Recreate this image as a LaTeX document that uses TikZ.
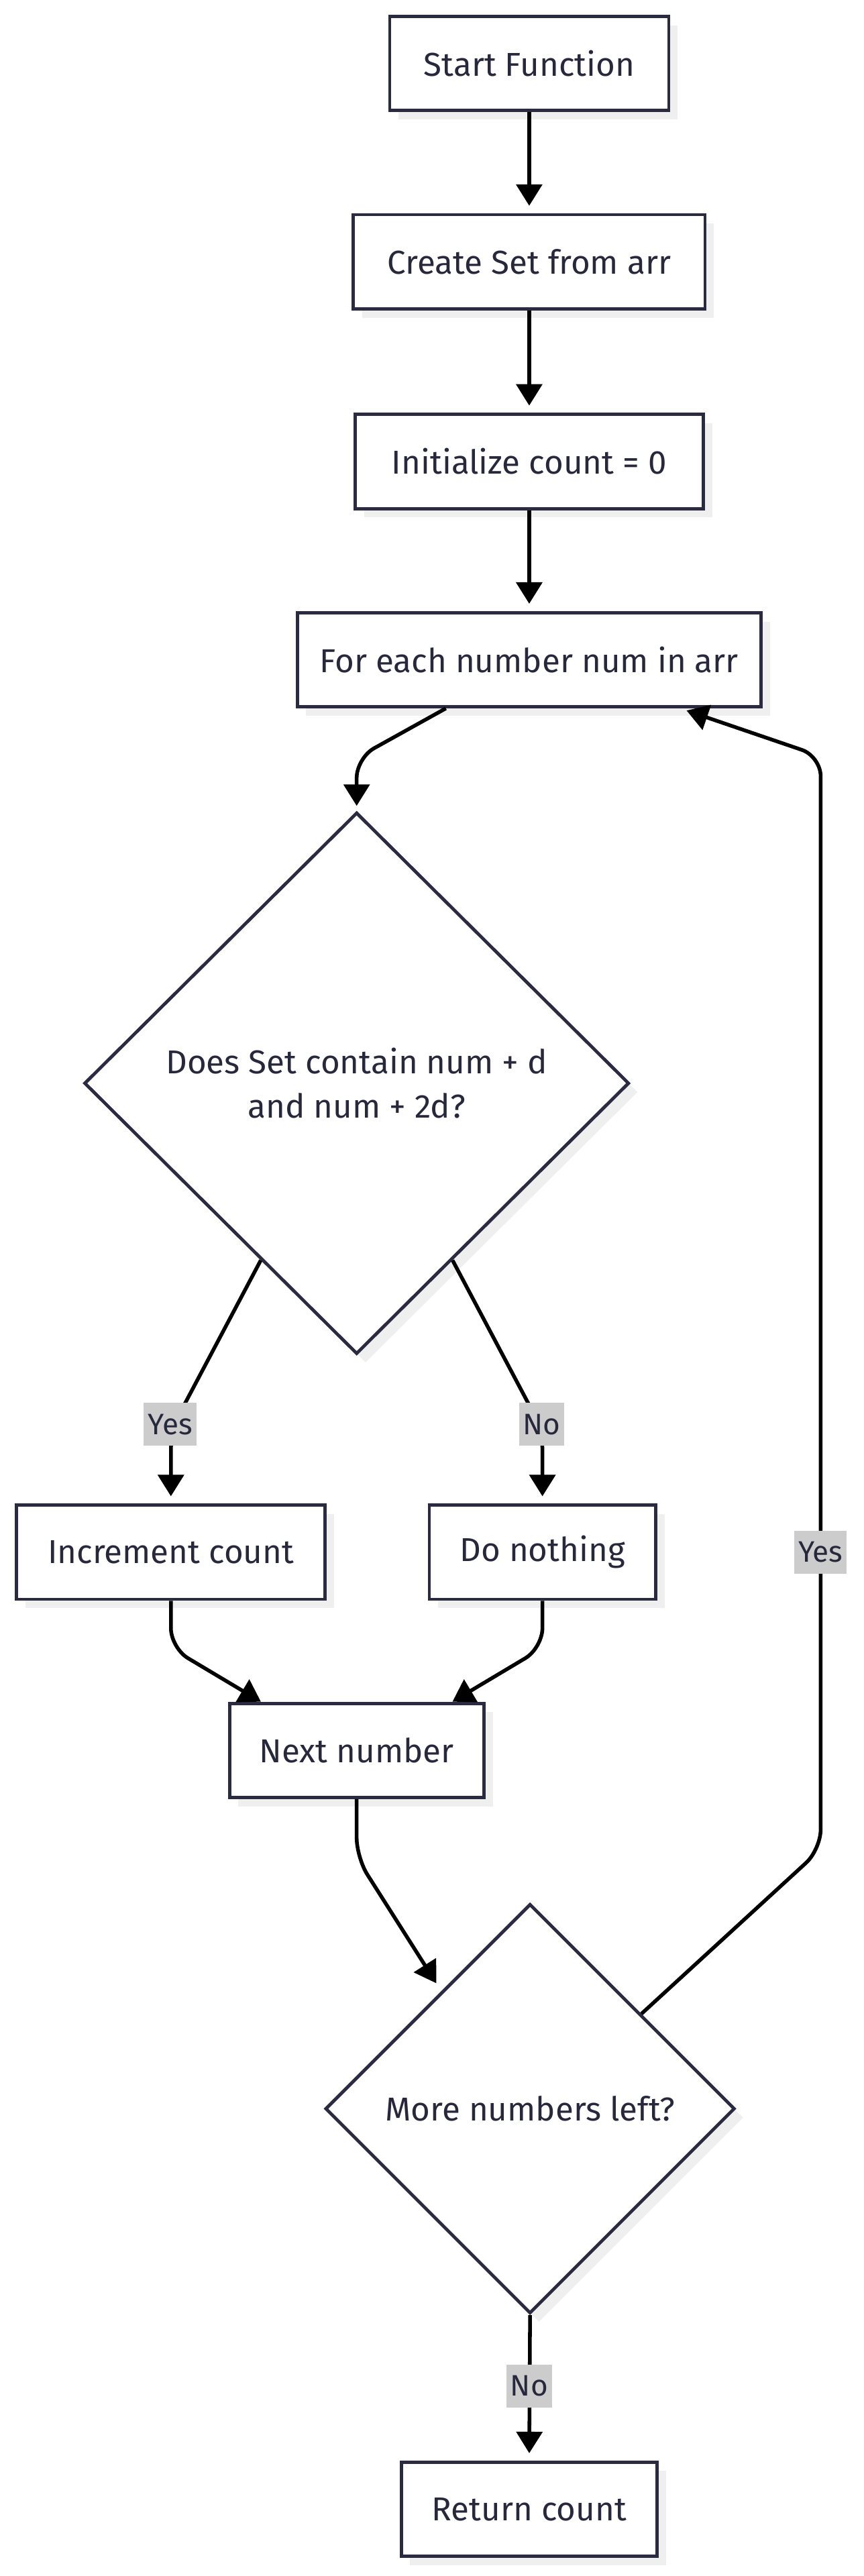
\documentclass[tikz,border=0pt]{standalone}
\usepackage{fontspec}
\setmainfont{Fira Sans}
\usetikzlibrary{arrows.meta,shapes.geometric,shadows,calc}
\definecolor{nodeline}{RGB}{42,42,64}
\definecolor{nodetext}{RGB}{40,40,60}
\definecolor{shade}{RGB}{239,239,239}
\definecolor{labelbg}{RGB}{204,204,204}
\tikzset{
  flowbox/.style={draw=nodeline, line width=2.8pt, fill=white, text=nodetext,
    minimum height=2.85cm, inner sep=0pt, align=center,
    font=\fontsize{28.5}{38}\selectfont,
    drop shadow={shadow xshift=0.27cm, shadow yshift=-0.27cm, fill=shade, opacity=1}},
  flowtest/.style={flowbox, diamond},
  flowedge/.style={line width=3.2pt, -{Triangle[length=0.65cm,width=0.78cm]},
    shorten >=0.22cm, rounded corners=0.6cm},
  edgelabel/.style={fill=labelbg, text=nodetext, font=\fontsize{25.5}{28}\selectfont,
    inner xsep=0.12cm, inner ysep=0pt, minimum height=1.3cm},
}
\begin{document}
\begin{tikzpicture}[x=0.05cm, y=-0.05cm]
  \useasboundingbox (0,0) rectangle (523.25,1560);

  \node[flowbox, minimum width=8.45cm]  (start)  at (320.5,38.5)  {Start Function};
  \node[flowbox, minimum width=10.65cm] (create) at (320.5,158.5) {Create Set from arr};
  \node[flowbox, minimum width=10.55cm] (init)   at (320.5,279.5) {Initialize count = 0};
  \node[flowbox, minimum width=14.05cm] (each)   at (320.5,399.5) {For each number num in arr};
  \node[flowtest, minimum width=16.5cm, minimum height=16.4cm]
    (check) at (216,656) {Does Set contain num + d\\and num + 2d?};
  \node[flowbox, minimum width=9.35cm]  (incr)   at (103.5,940)  {Increment count};
  \node[flowbox, minimum width=6.85cm]  (skip)   at (328.5,940)  {Do nothing};
  \node[flowbox, minimum width=7.7cm]   (next)   at (216,1060)   {Next number};
  \node[flowtest, minimum width=12.4cm, minimum height=12.4cm]
    (more) at (321,1277) {More numbers left?};
  \node[flowbox, minimum width=7.75cm]  (ret)    at (320.5,1519.5) {Return count};

  %% bends
  \coordinate (eachbend) at (216,459);
  \coordinate (yesbend)  at (103.5,866);
  \coordinate (nobend)   at (328.5,866);
  \coordinate (incrbend) at (103.5,998);
  \coordinate (skipbend) at (328.5,998);
  \coordinate (nextbend) at (216,1125);
  \coordinate (looplow)  at (497,1120);
  \coordinate (loophigh) at (497,458);

  %% straight steps
  \draw[flowedge] (start) -- (create);
  \draw[flowedge] (create) -- (init);
  \draw[flowedge] (init) -- (each);
  \draw[flowedge, shorten >=0.15cm]
    ($(each.south)+(-50.5,0)$) -- (eachbend) -- (check.north);

  %% branches
  \draw[flowedge] ($(check.south)!0.35!(check.west)$) -- (yesbend) -- (incr.north);
  \draw[flowedge] ($(check.south)!0.35!(check.east)$) -- (nobend) -- (skip.north);
  \draw[flowedge, shorten >=0pt] (incr.south) -- (incrbend) -- ($(next.north)+(-58,0)$);
  \draw[flowedge, shorten >=0pt] (skip.south) -- (skipbend) -- ($(next.north)+(58,0)$);
  \draw[flowedge, shorten >=0.28cm]
    (next.south) -- (nextbend) -- ($(more.west)!0.57!(more.north)$);

  %% loop back and exit
  \draw[flowedge, shorten >=0.2cm]
    ($(more.north)!0.54!(more.east)$) -- (looplow) -- (loophigh) -- ($(each.south)+(91.5,0)$);
  \draw[flowedge] (more.south) -- (ret.north);

  \node[edgelabel] (yesleft)  at (103,862.5)  {Yes};
  \node[edgelabel] (noright)  at (328,862.5)  {No};
  \node[edgelabel] (yesloop)  at (497,940)    {Yes};
  \node[edgelabel] (noexit)   at (320.5,1445) {No};
\end{tikzpicture}
\end{document}
